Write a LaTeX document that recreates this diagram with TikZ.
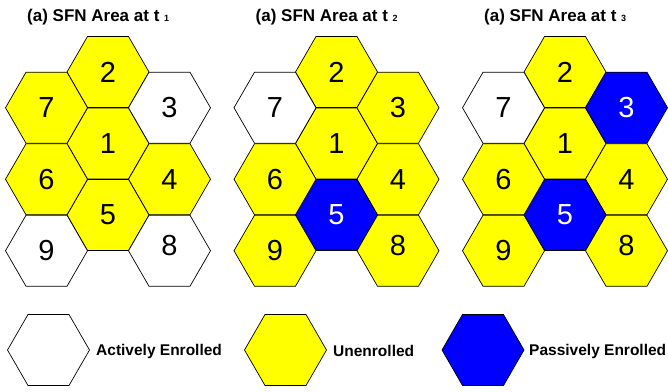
\documentclass[tikz,border=0pt]{standalone}
\usepackage{fontspec}
\setmainfont{Liberation Sans}
\usetikzlibrary{shapes.geometric}
\definecolor{hexyellow}{RGB}{255,255,0}
\definecolor{hexblue}{RGB}{0,0,255}
\begin{document}
\begin{tikzpicture}[x=1pt,y=-1pt,
  hexbase/.style={regular polygon, regular polygon sides=6, minimum size=82pt,
    inner sep=0pt, outer sep=0pt, draw=black, line width=0.7pt,
    font=\fontsize{29}{29}\selectfont},
  hexW/.style={hexbase, fill=white},
  hexY/.style={hexbase, fill=hexyellow},
  hexB/.style={hexbase, fill=hexblue, text=white},
  raised/.style={text depth=10pt},
  ttl/.style={anchor=base west, font=\bfseries\fontsize{17}{17}\selectfont, inner sep=0pt},
  leg/.style={anchor=west, font=\bfseries\fontsize{15.5}{15.5}\selectfont, inner sep=0pt}]
\useasboundingbox (0,0) rectangle (668,391);
\foreach \p/\ox/\a/\b/\c/\d/\e/\f/\g/\h/\i in {
   1/0/Y/Y/W/Y/Y/Y/Y/W/W,
   2/228.5/Y/Y/Y/Y/B/Y/W/Y/Y,
   3/457/Y/Y/B/Y/B/Y/W/Y/Y}{
  \node[ttl] (t\p) at ({\ox+27},21.7) {(a) SFN Area at t {\fontsize{9}{9}\selectfont\p}};
  \node[hex\a] (p\p c1) at ({\ox+108},143.5) {1};
  \node[hex\b] (p\p c2) at ({\ox+108},72) {2};
  \node[hex\c] (p\p c3) at ({\ox+169.5},107.75) {3};
  \node[hex\d] (p\p c4) at ({\ox+169.5},179.25) {4};
  \node[hex\e] (p\p c5) at ({\ox+108},215) {5};
  \node[hex\f] (p\p c6) at ({\ox+46.5},179.25) {6};
  \node[hex\g] (p\p c7) at ({\ox+46.5},107.75) {7};
  \node[hex\h, raised] (p\p c8) at ({\ox+169.5},250.75) {8};
  \node[hex\i] (p\p c9) at ({\ox+46.5},250.75) {9};
}
\node[hexW] (lw) at (48.5,350) {};
\node[hexY] (ly) at (285.5,350) {};
\node[hexB] (lb) at (483,350) {};
\node[leg] (lwt) at (96,351) {Actively Enrolled};
\node[leg] (lyt) at (333,351) {Unenrolled};
\node[leg] (lbt) at (529,351) {Passively Enrolled};
\end{tikzpicture}
\end{document}
